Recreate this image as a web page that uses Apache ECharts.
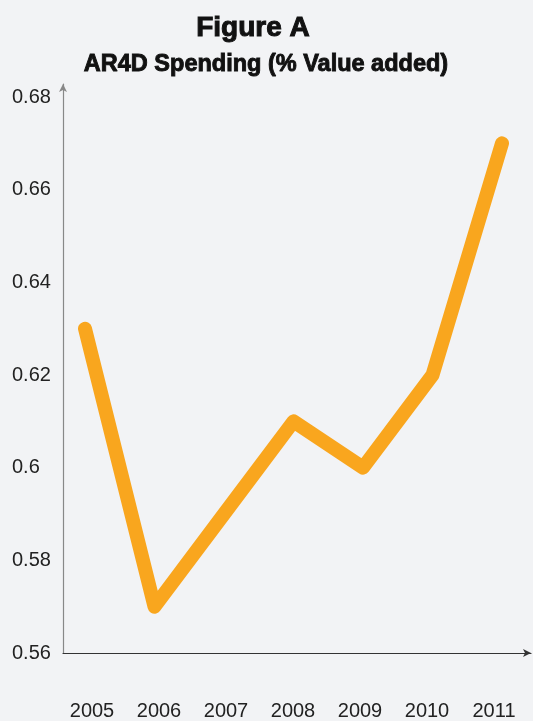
<!DOCTYPE html>
<html>
<head>
<meta charset="utf-8">
<style>
  html, body { margin: 0; padding: 0; background: #f2f3f5; }
  #chart { width: 533px; height: 721px; }
</style>
<script src="https://cdn.jsdelivr.net/npm/echarts@6/dist/echarts.min.js"></script>
</head>
<body>
<div id="chart"></div>
<script>
// AR4D spending as a share of agricultural value added, by year
const years = ['2005', '2006', '2007', '2008', '2009', '2010', '2011'];
const spending = [0.63, 0.57, 0.59, 0.61, 0.60, 0.62, 0.67];
const yMin = 0.56;
const yMax = 0.68;
const yStep = 0.02;

const font = '"Liberation Sans", Arial, Helvetica, sans-serif';
const chart = echarts.init(document.getElementById('chart'));

chart.setOption({
  backgroundColor: '#f2f3f5',
  animation: false,
  title: [
    {
      text: 'Figure A',
      left: 248, top: 9, textAlign: 'center',
      textStyle: { fontFamily: font, fontSize: 28, fontWeight: 'bold', color: '#111',
                   textBorderColor: '#111', textBorderWidth: 1 }
    },
    {
      text: 'AR4D Spending (% Value added)',
      left: 261, top: 48, textAlign: 'center',
      textStyle: { fontFamily: font, fontSize: 23.5, fontWeight: 'bold', color: '#111',
                   textBorderColor: '#111', textBorderWidth: 0.9 }
    }
  ],
  grid: [
    // frame: axis lines with arrow heads
    { left: 63, right: 2, top: 84, bottom: 68 },
    // plotting area for the line
    { left: 85, right: 31, top: 97, bottom: 68 },
    // year labels
    { left: 92, right: 39, top: 97, bottom: 68 }
  ],
  xAxis: [
    {
      gridIndex: 0, type: 'value', min: 0, max: 1,
      axisLine: { show: true, lineStyle: { color: '#333', width: 1.2 },
                  symbol: ['none', 'arrow'], symbolSize: [6, 8] },
      axisTick: { show: false }, axisLabel: { show: false }, splitLine: { show: false }
    },
    {
      gridIndex: 1, type: 'category', data: years, boundaryGap: false,
      axisLine: { show: false }, axisTick: { show: false },
      axisLabel: { show: false }, splitLine: { show: false }
    },
    {
      gridIndex: 2, type: 'category', data: years, boundaryGap: false,
      axisLine: { show: false }, axisTick: { show: false }, splitLine: { show: false },
      axisLabel: { show: true, margin: 51, fontFamily: font, fontSize: 20, color: '#222' }
    }
  ],
  yAxis: [
    {
      gridIndex: 0, type: 'value', min: 0, max: 1,
      axisLine: { show: true, lineStyle: { color: '#888', width: 1.2 },
                  symbol: ['none', 'arrow'], symbolSize: [6, 8] },
      axisTick: { show: false }, axisLabel: { show: false }, splitLine: { show: false }
    },
    {
      gridIndex: 1, type: 'value', min: yMin, max: yMax, interval: yStep,
      axisLine: { show: false }, axisTick: { show: false }, splitLine: { show: false },
      axisLabel: { show: true, margin: 73, align: 'left', fontFamily: font, fontSize: 20, color: '#222' }
    },
    {
      gridIndex: 2, type: 'value', min: yMin, max: yMax, show: false
    }
  ],
  series: [
    {
      type: 'line',
      xAxisIndex: 1, yAxisIndex: 1,
      data: spending,
      symbol: 'none',
      lineStyle: { color: '#f9a61e', width: 14, cap: 'round', join: 'round' }
    }
  ]
});
</script>
</body>
</html>
